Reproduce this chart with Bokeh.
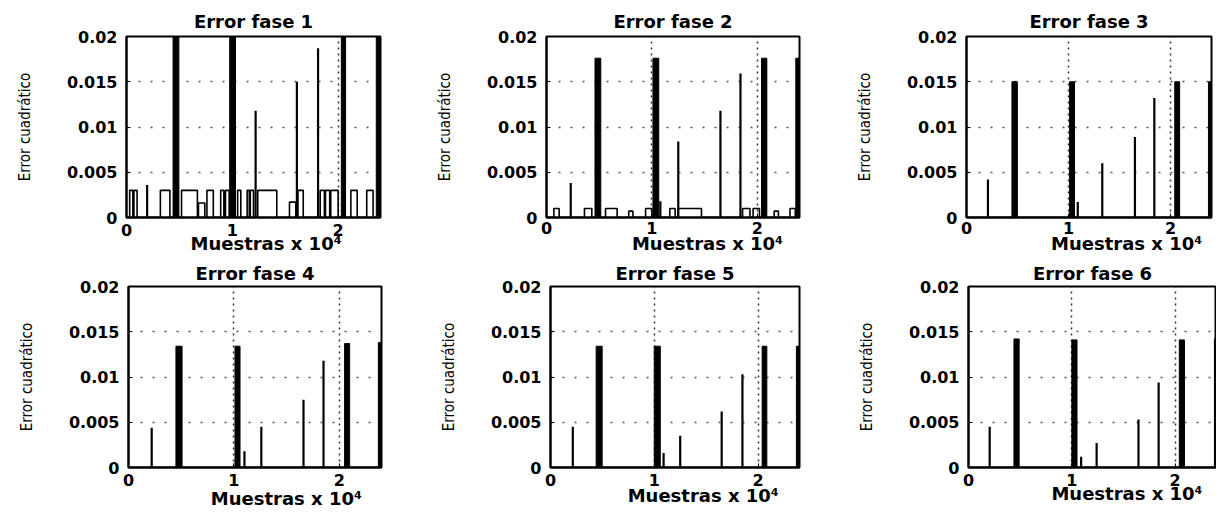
from bokeh.plotting import figure
from bokeh.layouts import column, row
from bokeh.models import FixedTicker, Range1d
from bokeh.embed import file_html
from bokeh.resources import INLINE

# ---------------- data ----------------
X_MAX = 24000
Y_MAX = 0.02
x_ticks = [0, 10000, 20000]
x_tick_labels = ["0", "1", "2"]
y_ticks = [0, 0.005, 0.01, 0.015, 0.02]
y_tick_labels = ["0", "0.005", "0.01", "0.015", "0.02"]
titles = ["Error fase 1", "Error fase 2", "Error fase 3",
          "Error fase 4", "Error fase 5", "Error fase 6"]
x_label = "Muestras x 10⁴"
y_label = "Error cuadrático"

# dense oscillation bursts (drawn as solid black blocks)
f1_burst_start = [4400, 9750, 20300, 23600]
f1_burst_end = [4950, 10300, 20700, 24000]
f1_burst_peak = [0.0205, 0.0205, 0.0205, 0.0205]
f2_burst_start = [4600, 10100, 20400, 23650]
f2_burst_end = [5150, 10650, 20900, 24000]
f2_burst_peak = [0.0176, 0.0176, 0.0176, 0.0176]
f3_burst_start = [4450, 10100, 20400, 23700]
f3_burst_end = [4980, 10580, 20880, 24000]
f3_burst_peak = [0.0150, 0.0150, 0.0150, 0.0150]
f4_burst_start = [4500, 10100, 20500, 23700]
f4_burst_end = [5080, 10580, 20980, 24000]
f4_burst_peak = [0.0134, 0.0134, 0.0137, 0.0138]
f5_burst_start = [4400, 10000, 20400, 23700]
f5_burst_end = [4980, 10580, 20850, 24000]
f5_burst_peak = [0.0134, 0.0134, 0.0134, 0.0134]
f6_burst_start = [4400, 10000, 20400, 23800]
f6_burst_end = [4900, 10500, 20900, 24000]
f6_burst_peak = [0.0142, 0.0141, 0.0141, 0.0142]

# isolated spikes
f1_spike_x = [1950, 12200, 16100, 18100]
f1_spike_y = [0.0036, 0.0118, 0.0150, 0.0187]
f2_spike_x = [2300, 10800, 12500, 16500, 18400]
f2_spike_y = [0.0038, 0.0018, 0.0084, 0.0118, 0.0159]
f3_spike_x = [2100, 10900, 13300, 16500, 18400]
f3_spike_y = [0.0042, 0.0017, 0.0060, 0.0089, 0.0132]
f4_spike_x = [2200, 11000, 12600, 16600, 18500]
f4_spike_y = [0.0044, 0.0018, 0.0045, 0.0075, 0.0118]
f5_spike_x = [2150, 10900, 12500, 16500, 18500]
f5_spike_y = [0.0045, 0.0016, 0.0035, 0.0062, 0.0103]
f6_spike_x = [2050, 10900, 12400, 16450, 18400]
f6_spike_y = [0.0045, 0.0012, 0.0027, 0.0053, 0.0094]

# low rectangular pulses
f1_pulse_start = [300, 700, 3200, 5200, 6800, 7600, 8900, 9350, 10500, 11400, 11700,
                  12400, 15400, 16200, 18300, 18800, 19300, 21200, 22700]
f1_pulse_end = [600, 1000, 4100, 6700, 7400, 8200, 9200, 9700, 10800, 11600, 12000,
                14200, 16000, 16700, 18700, 19200, 20000, 21800, 23300]
f1_pulse_level = [0.003, 0.003, 0.003, 0.003, 0.0016, 0.003, 0.003, 0.003, 0.003, 0.003,
                  0.003, 0.003, 0.0017, 0.003, 0.003, 0.003, 0.003, 0.003, 0.003]
f2_pulse_start = [700, 3600, 5600, 7800, 9400, 11700, 12500, 18600, 19600, 21600, 23100]
f2_pulse_end = [1200, 4300, 6700, 8200, 10000, 12200, 14700, 19300, 20200, 22000, 23600]
f2_pulse_level = [0.001, 0.001, 0.001, 0.0007, 0.001, 0.001, 0.001, 0.001, 0.001,
                  0.0007, 0.001]

bursts = [(f1_burst_start, f1_burst_end, f1_burst_peak),
          (f2_burst_start, f2_burst_end, f2_burst_peak),
          (f3_burst_start, f3_burst_end, f3_burst_peak),
          (f4_burst_start, f4_burst_end, f4_burst_peak),
          (f5_burst_start, f5_burst_end, f5_burst_peak),
          (f6_burst_start, f6_burst_end, f6_burst_peak)]
spikes = [(f1_spike_x, f1_spike_y), (f2_spike_x, f2_spike_y), (f3_spike_x, f3_spike_y),
          (f4_spike_x, f4_spike_y), (f5_spike_x, f5_spike_y), (f6_spike_x, f6_spike_y)]
pulses = [(f1_pulse_start, f1_pulse_end, f1_pulse_level),
          (f2_pulse_start, f2_pulse_end, f2_pulse_level),
          None, None, None, None]

# ---------------- layout / style ----------------
# (left border, frame width, right border, top border, frame height, bottom border)
boxes = [
    (126, 254, 48, 36, 181, 40),
    (118, 253, 49, 36, 181, 40),
    (118, 245, 5, 36, 181, 40),
    (128, 253, 47, 29, 181, 45),
    (122, 249, 49, 29, 181, 45),
    (120, 248, 0, 29, 181, 45),
]
# x axis: (tick label standoff, leading pad count, axis label standoff)
xlab_style = [(6, 4, -6), (4, 11, -4), (4, 12, -4), (6, 10, -1), (6, 9, -4), (6, 11, -6)]
title_standoff = [9, 9, 9, 6, 6, 6]

BOLD = "'DejaVu Sans', sans-serif"
NARROW = "'Liberation Sans Narrow', 'DejaVu Sans Condensed', 'Roboto Condensed', 'Roboto', sans-serif"


def pulse_path(starts, ends, levels):
    xs, ys = [0], [0]
    for a, b, h in zip(starts, ends, levels):
        xs += [a, a, b, b]
        ys += [0, h, h, 0]
    xs.append(X_MAX)
    ys.append(0)
    return xs, ys


figs = []
for i in range(6):
    lb, fw, rb, tb, fh, bb = boxes[i]
    p = figure(frame_width=fw, frame_height=fh,
               min_border_left=lb, min_border_right=rb,
               min_border_top=tb, min_border_bottom=bb,
               x_range=Range1d(0, X_MAX), y_range=Range1d(0, Y_MAX),
               output_backend="svg", toolbar_location=None,
               background_fill_color="white", border_fill_color="white")
    p.title.text = titles[i]
    p.title.align = "center"
    p.title.text_font = BOLD
    p.title.text_font_style = "bold"
    p.title.text_font_size = "18px"
    p.title.text_color = "black"
    p.title.standoff = title_standoff[i]

    p.outline_line_color = "black"
    p.outline_line_width = 2
    p.outline_line_alpha = 1

    p.xaxis.ticker = FixedTicker(ticks=x_ticks)
    p.xaxis.major_label_overrides = dict(zip(x_ticks, x_tick_labels))
    p.yaxis.ticker = FixedTicker(ticks=y_ticks)
    p.yaxis.major_label_overrides = dict(zip(y_ticks, y_tick_labels))
    for ax in (p.xaxis, p.yaxis):
        ax.major_label_text_font = BOLD
        ax.major_label_text_font_style = "bold"
        ax.major_label_text_font_size = "16px"
        ax.major_label_text_color = "black"
        ax.major_tick_in = 4
        ax.major_tick_out = 0
        ax.minor_tick_line_color = None
        ax.axis_line_color = "black"
        ax.axis_line_width = 2
        ax.major_tick_line_color = "black"
    tick_stand, pad, stand = xlab_style[i]
    p.xaxis.major_label_standoff = tick_stand
    p.yaxis.major_label_standoff = 9

    p.yaxis.axis_label = y_label
    p.yaxis.axis_label_text_font = NARROW
    p.yaxis.axis_label_text_font_style = "normal"
    p.yaxis.axis_label_text_font_size = "15px"
    p.yaxis.axis_label_text_color = "black"
    p.yaxis.axis_label_standoff = 30

    p.xaxis.axis_label = "\u00a0" * pad + x_label
    p.xaxis.axis_label_text_font = BOLD
    p.xaxis.axis_label_text_font_style = "bold"
    p.xaxis.axis_label_text_font_size = "18px"
    p.xaxis.axis_label_text_color = "black"
    p.xaxis.axis_label_standoff = stand

    p.xgrid.ticker = FixedTicker(ticks=[10000, 20000])
    p.ygrid.ticker = FixedTicker(ticks=[0.005, 0.01, 0.015])
    p.xgrid.grid_line_color = "#333333"
    p.xgrid.grid_line_dash = "2 4"
    p.xgrid.grid_line_width = 1.5
    p.ygrid.grid_line_color = "#555555"
    p.ygrid.grid_line_dash = "2 10"
    p.ygrid.grid_line_width = 1.5

    # low pulses / baseline
    if pulses[i] is not None:
        px, py = pulse_path(*pulses[i])
        p.line(px, py, line_color="black", line_width=1.6)
    else:
        p.line([0, X_MAX], [0, 0], line_color="black", line_width=1.6)

    # spikes
    sx, sy = spikes[i]
    p.segment(x0=sx, y0=[0] * len(sx), x1=sx, y1=sy, line_color="black", line_width=2.2)

    # bursts
    b0, b1, bh = bursts[i]
    p.quad(left=b0, right=b1, bottom=[0] * len(b0), top=bh,
           fill_color="black", line_color="black", line_width=1)

    figs.append(p)

layout = column(row(figs[0], figs[1], figs[2], spacing=0),
                row(figs[3], figs[4], figs[5], spacing=0), spacing=0)

open("out.html", "w").write(file_html(layout, INLINE))
